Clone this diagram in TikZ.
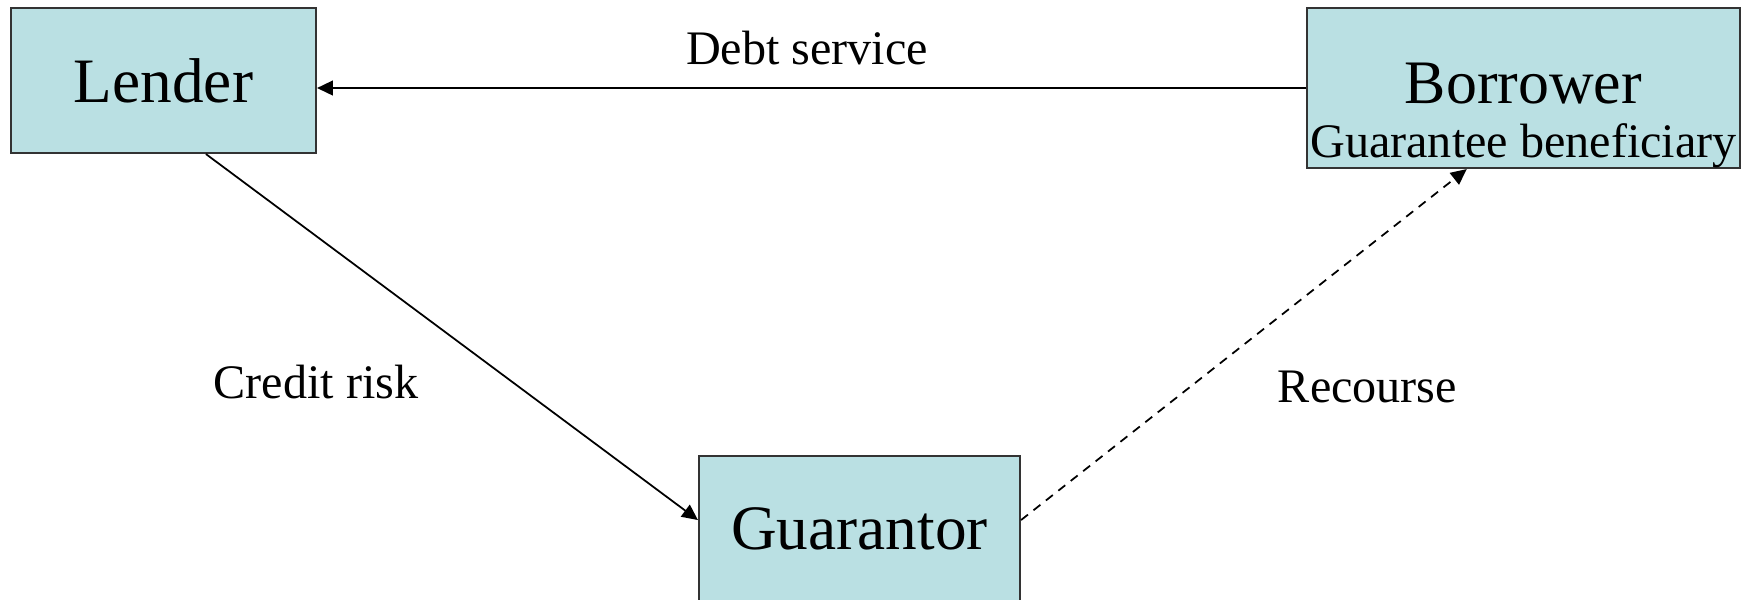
\documentclass[tikz,border=0pt]{standalone}
\usepackage{fontspec}
\setmainfont{Liberation Serif}
\usetikzlibrary{positioning}
\usetikzlibrary{arrows.meta}
\definecolor{boxfill}{RGB}{186,224,227}

\begin{document}
\begin{tikzpicture}
		\tikzset{
			party/.style={draw=black!80,line width=0.6pt,fill=boxfill,inner sep=0pt,font=\fontsize{18}{21}\selectfont},
		}
		\tikzset{
			flow/.style={color=black,line width=0.5pt,-{Triangle[length=4.5pt,width=4.2pt]}},
			flowtext/.style={anchor=base,font=\fontsize{13.7}{16}\selectfont},
		}
		
		\useasboundingbox (0,0) rectangle (17.45,-5.99);
		
		\node[party,minimum width=3.05cm,minimum height=1.45cm] (lender) at (1.635,-0.805) {Lender};
		\node[party,minimum width=4.33cm,minimum height=1.60cm] (borrower) at (15.235,-0.88) {};
		\node[party,minimum width=3.21cm,minimum height=1.45cm] (guarantor) at (8.595,-5.285) {Guarantor};
		
		\node[anchor=base,font=\fontsize{17.6}{21}\selectfont] (borrowername) at (15.235,-1.03) {Borrower};
		\node[flowtext] (beneficiary) at (15.235,-1.57) {Guarantee beneficiary};
		
		\node[flowtext] (debt) at (8.07,-0.64) {Debt service};
		\node[flowtext] (credit) at (3.16,-3.98) {Credit risk};
		\node[flowtext] (recourse) at (13.675,-4.02) {Recourse};
		
		\draw[flow] (borrower.west) to (borrower.west -| lender.east);
		\draw[flow] (lender.-60.5) to (guarantor.177);
		\draw[flow,dash pattern=on 2.5pt off 2pt] (guarantor.3) to (borrower.235);
	\end{tikzpicture}
\end{document}
